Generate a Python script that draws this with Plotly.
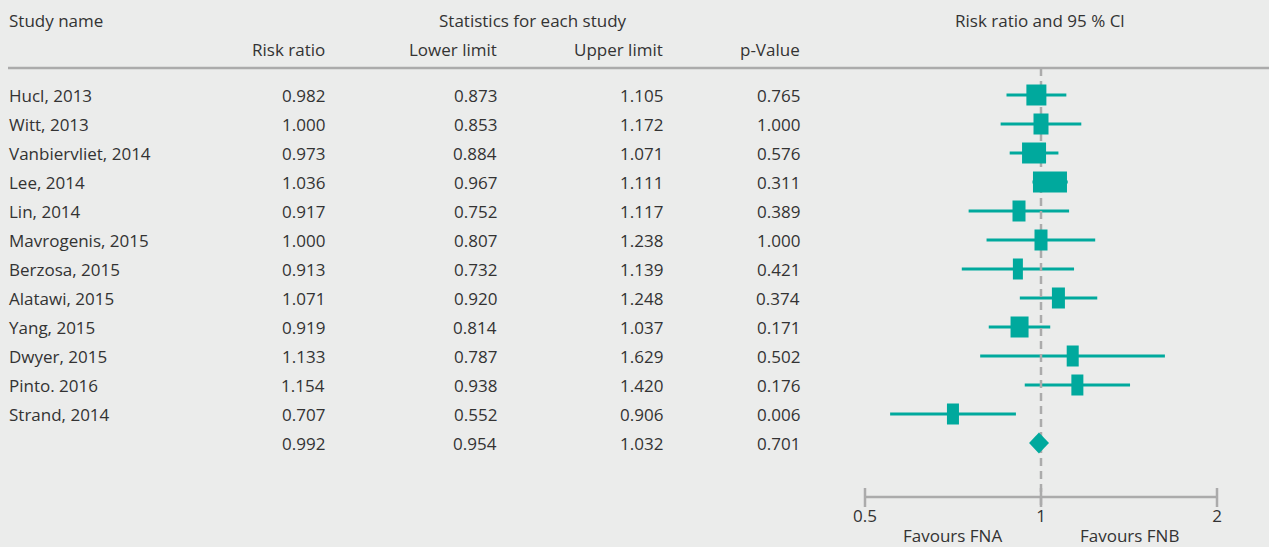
import plotly.graph_objects as go
import math

# ---------------- data ----------------
studies = ["Hucl, 2013", "Witt, 2013", "Vanbiervliet, 2014", "Lee, 2014", "Lin, 2014",
           "Mavrogenis, 2015", "Berzosa, 2015", "Alatawi, 2015", "Yang, 2015",
           "Dwyer, 2015", "Pinto. 2016", "Strand, 2014"]
risk_ratio = [0.982, 1.000, 0.973, 1.036, 0.917, 1.000, 0.913, 1.071, 0.919, 1.133, 1.154, 0.707]
lower_limit = [0.873, 0.853, 0.884, 0.967, 0.752, 0.807, 0.732, 0.920, 0.814, 0.787, 0.938, 0.552]
upper_limit = [1.105, 1.172, 1.071, 1.111, 1.117, 1.238, 1.139, 1.248, 1.037, 1.629, 1.420, 0.906]
p_values = [0.765, 1.000, 0.576, 0.311, 0.389, 1.000, 0.421, 0.374, 0.171, 0.502, 0.176, 0.006]
study_weight = [20, 15, 24, 34, 13, 13, 10, 13, 18, 12, 12, 12]   # relative weight (box width)

summary_rr = 0.992
summary_lower = 0.954
summary_upper = 1.032
summary_p = 0.701

tick_vals = [0.5, 1, 2]
tick_text = ["0.5", "1", "2"]
favours_left = "Favours FNA"
favours_right = "Favours FNB"

# ---------------- layout constants ----------------
W, H = 1269, 547
BG = "#ebeceb"
TEAL = "#00a99d"
GREY = "#ababab"
TXT = "#333333"
FONT = "Open Sans"
FS = 17
ROW0, ROWH = 95, 29          # pixel y of first row, row pitch
X_LO_PX, X_HI_PX = 865, 1217  # pixel x of 0.5 and 2
DOM_LO_PX, DOM_HI_PX = 840, 1245
BOX_H = 21                    # box height in px

def row_of(py):
    return (py - ROW0) / ROWH

px_per_dec = (X_HI_PX - X_LO_PX) / (math.log10(2) - math.log10(0.5))

def px_factor(px):
    return 10 ** (px / px_per_dec)

def xp(px):
    return px / W

def yp(py):
    return 1 - py / H

n = len(studies)
rows = list(range(n))
sum_row = n
half_h = BOX_H / 2 / ROWH

fig = go.Figure()

# confidence interval lines
cx, cy = [], []
for i in rows:
    cx += [lower_limit[i], upper_limit[i], None]
    cy += [i, i, None]
fig.add_trace(go.Scatter(x=cx, y=cy, mode="lines", line=dict(color=TEAL, width=3),
                         hoverinfo="skip", showlegend=False))

# dashed reference line at 1
fig.add_trace(go.Scatter(x=[1, 1], y=[row_of(68), row_of(507)], mode="lines",
                         line=dict(color=GREY, width=2.5, dash="8px,5px"),
                         hoverinfo="skip", showlegend=False))

# boxes (width ~ weight)
bx, by = [], []
for i in rows:
    f = px_factor(study_weight[i] / 2)
    l, r = risk_ratio[i] / f, risk_ratio[i] * f
    bx += [l, r, r, l, l, None]
    by += [i - half_h, i - half_h, i + half_h, i + half_h, i - half_h, None]
fig.add_trace(go.Scatter(x=bx, y=by, mode="lines", fill="toself", fillcolor=TEAL,
                         line=dict(color=TEAL, width=0), hoverinfo="skip", showlegend=False))

# summary diamond
fig.add_trace(go.Scatter(x=[summary_lower, summary_rr, summary_upper, summary_rr, summary_lower],
                         y=[sum_row, sum_row - half_h, sum_row, sum_row + half_h, sum_row],
                         mode="lines", fill="toself", fillcolor=TEAL, line=dict(color=TEAL, width=0),
                         hoverinfo="skip", showlegend=False))

# bottom axis (drawn manually)
ax_row = row_of(497)
fig.add_trace(go.Scatter(x=[tick_vals[0], tick_vals[-1]], y=[ax_row, ax_row], mode="lines",
                         line=dict(color=GREY, width=2.5), hoverinfo="skip", showlegend=False))
tx, ty = [], []
for t in tick_vals:
    tx += [t, t, None]
    ty += [row_of(488), row_of(507), None]
fig.add_trace(go.Scatter(x=tx, y=ty, mode="lines", line=dict(color=GREY, width=2.5),
                         hoverinfo="skip", showlegend=False))
fig.add_trace(go.Scatter(x=tick_vals, y=[row_of(518)] * len(tick_vals), mode="text",
                         text=tick_text, textposition="middle center", cliponaxis=False,
                         textfont=dict(family=FONT, size=FS, color=TXT),
                         hoverinfo="skip", showlegend=False))

# ---------------- table text ----------------
ann = []
def add(text, x_px, y, anchor, yref="y"):
    ann.append(dict(text=text, x=xp(x_px), xref="paper", y=y, yref=yref,
                    xanchor=anchor, yanchor="middle", showarrow=False,
                    font=dict(family=FONT, size=FS, color=TXT)))

add("Study name", 7, yp(20), "left", "paper")
add("Statistics for each study", 533, yp(20), "center", "paper")
add("Risk ratio and 95 % Cl", 1040, yp(20), "center", "paper")
add("Risk ratio", 327, yp(49), "right", "paper")
add("Lower limit", 499, yp(49), "right", "paper")
add("Upper limit", 665, yp(49), "right", "paper")
add("p-Value", 802, yp(49), "right", "paper")

for i in rows:
    add(studies[i], 7, i, "left")
    add(f"{risk_ratio[i]:.3f}", 327, i, "right")
    add(f"{lower_limit[i]:.3f}", 499, i, "right")
    add(f"{upper_limit[i]:.3f}", 665, i, "right")
    add(f"{p_values[i]:.3f}", 802, i, "right")
add(f"{summary_rr:.3f}", 327, sum_row, "right")
add(f"{summary_lower:.3f}", 499, sum_row, "right")
add(f"{summary_upper:.3f}", 665, sum_row, "right")
add(f"{summary_p:.3f}", 802, sum_row, "right")

add(favours_left, 952, yp(535), "center", "paper")
add(favours_right, 1129, yp(535), "center", "paper")

shapes = [dict(type="line", xref="paper", yref="paper", x0=xp(8), x1=1, y0=yp(68), y1=yp(68),
               line=dict(color=GREY, width=2.5))]

fig.update_layout(
    width=W, height=H,
    margin=dict(l=0, r=0, t=0, b=0),
    paper_bgcolor=BG, plot_bgcolor=BG,
    xaxis=dict(type="log",
               range=[math.log10(0.5) - (X_LO_PX - DOM_LO_PX) / px_per_dec,
                      math.log10(2) + (DOM_HI_PX - X_HI_PX) / px_per_dec],
               domain=[DOM_LO_PX / W, DOM_HI_PX / W], visible=False),
    yaxis=dict(range=[row_of(H), row_of(0)], domain=[0, 1], visible=False),
    annotations=ann, shapes=shapes, showlegend=False,
)

fig.write_html("out.html", config={"displayModeBar": False},
               post_script="document.body.style.margin='0';document.body.style.overflow='hidden';"
                           "document.body.style.background='" + BG + "';")
